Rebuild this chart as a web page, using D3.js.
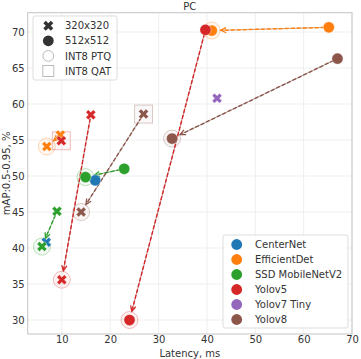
<!DOCTYPE html>
<html><head><meta charset="utf-8">
<script src="https://cdn.jsdelivr.net/npm/d3@7"></script>
<style>body{margin:0;background:#fff}svg{display:block;font-family:"DejaVu Sans",sans-serif}</style>
</head><body><svg id="c" width="361" height="359"></svg>
<script>
const models = ["CenterNet","EfficientDet","SSD MobileNetV2","Yolov5","Yolov7 Tiny","Yolov8"];
const modelColors = ["#1f77b4","#ff7f0e","#2ca02c","#d62728","#9467bd","#8c564b"];
const xTicks = [10,20,30,40,50,60,70];
const yTicks = [30,35,40,45,50,55,60,65,70];
// points: model index, resolution, quantization, latency (ms), mAP
const ptModel = [0,0,1,1,1,1,2,2,2,2,3,3,3,3,3,4,5,5,5,5];
const ptRes   = [320,512,320,320,512,512,320,320,512,512,320,320,320,512,512,320,320,320,512,512];
const ptQuant = ["","","","PTQ","","PTQ","","PTQ","","PTQ","","PTQ","QAT","","PTQ","","QAT","PTQ","","PTQ"];
const ptLat   = [6.8,16.9,9.7,6.9,65.2,41.0,9.0,5.9,22.9,14.9,16.0,10.0,9.9,39.7,24.0,42.1,26.9,14.0,67.0,32.8];
const ptMap   = [40.8,49.4,55.7,54.1,70.65,70.2,45.1,40.2,51.0,49.85,58.5,35.6,54.9,70.3,30.0,60.8,58.6,45.0,66.3,55.2];
// arrows: from point index -> to point index
const arrFrom = [2,4,6,8,10,13,16,18];
const arrTo   = [3,5,7,9,11,14,17,19];

const svg = d3.select("#c");
const L=27.7,R=352,T=12.7,B=334;
const x = d3.scaleLinear().domain([2.95,70]).range([L,R]);
const y = d3.scaleLinear().domain([28.06,72.68]).range([B,T]);
const tc="#333";
// grid
svg.append("g").selectAll("line").data(xTicks).join("line")
  .attr("x1",d=>x(d)).attr("x2",d=>x(d)).attr("y1",T).attr("y2",B).attr("stroke","#ebebeb").attr("stroke-width",0.8);
svg.append("g").selectAll("line").data(yTicks).join("line")
  .attr("y1",d=>y(d)).attr("y2",d=>y(d)).attr("x1",L).attr("x2",R).attr("stroke","#ebebeb").attr("stroke-width",0.8);
svg.append("rect").attr("x",L).attr("y",T).attr("width",R-L).attr("height",B-T).attr("fill","none").attr("stroke","#c4c4c4").attr("stroke-width",1);
// axes labels via d3 axes
const xa = svg.append("g").attr("transform",`translate(0,${B})`).call(d3.axisBottom(x).tickValues(xTicks).tickSize(0).tickPadding(2));
const ya = svg.append("g").attr("transform",`translate(${L},0)`).call(d3.axisLeft(y).tickValues(yTicks).tickSize(0).tickPadding(3));
[xa,ya].forEach(a=>{a.select(".domain").remove();a.selectAll("text").attr("fill",tc).style("font-size","10px").style("font-family","DejaVu Sans");});
svg.append("text").attr("x",(L+R)/2).attr("y",10).attr("text-anchor","middle").attr("fill",tc).style("font-size","10px").text("PC");
svg.append("text").attr("x",(L+R)/2).attr("y",357).attr("text-anchor","middle").attr("fill",tc).style("font-size","10px").text("Latency, ms");
svg.append("text").attr("transform",`translate(10,${(T+B)/2}) rotate(-90)`).attr("text-anchor","middle").attr("fill",tc).style("font-size","10px").text("mAP:0.5-0.95, %");

const idx = d3.range(ptLat.length);
const col = i=>modelColors[ptModel[i]];
// arrows lines
const gA = svg.append("g");
arrFrom.forEach((f,k)=>{
  const t=arrTo[k];
  const x1=x(ptLat[f]),y1=y(ptMap[f]),x2=x(ptLat[t]),y2=y(ptMap[t]);
  const dx=x2-x1,dy=y2-y1,len=Math.hypot(dx,dy),ux=dx/len,uy=dy/len;
  const sx=x1+ux*4,sy=y1+uy*4,ex=x2-ux*9,ey=y2-uy*9;
  const c=modelColors[ptModel[f]];
  gA.append("line").attr("x1",sx).attr("y1",sy).attr("x2",ex).attr("y2",ey).attr("stroke",d3.color(c).darker(1)).attr("stroke-opacity",0.55).attr("stroke-width",1);
  gA.append("line").attr("x1",sx).attr("y1",sy).attr("x2",ex).attr("y2",ey).attr("stroke",c).attr("stroke-width",1.4).attr("stroke-dasharray","4,2");
  const a=Math.atan2(uy,ux),hl=6,ha=0.45;
  const p=`M${ex-hl*Math.cos(a-ha)},${ey-hl*Math.sin(a-ha)}L${ex},${ey}L${ex-hl*Math.cos(a+ha)},${ey-hl*Math.sin(a+ha)}`;
  gA.append("path").attr("d",p).attr("fill","none").attr("stroke",c).attr("stroke-width",1.3);
});
// rings and squares
svg.append("g").selectAll("circle").data(idx.filter(i=>ptQuant[i]==="PTQ")).join("circle")
  .attr("cx",i=>x(ptLat[i])).attr("cy",i=>y(ptMap[i])).attr("r",8.5)
  .attr("fill",i=>col(i)).attr("fill-opacity",0.06).attr("stroke",i=>col(i)).attr("stroke-opacity",0.3).attr("stroke-width",1);
svg.append("g").selectAll("rect").data(idx.filter(i=>ptQuant[i]==="QAT")).join("rect")
  .attr("x",i=>x(ptLat[i])-9).attr("y",i=>y(ptMap[i])-9).attr("width",18).attr("height",18)
  .attr("fill",i=>col(i)).attr("fill-opacity",0.04).attr("stroke",i=>col(i)).attr("stroke-opacity",0.3).attr("stroke-width",1);
// markers
const xSym = d3.symbol(d3.symbolCross).size(62);
const gm = svg.append("g");
idx.forEach(i=>{
  const px=x(ptLat[i]),py=y(ptMap[i]);
  if(ptRes[i]===320) gm.append("path").attr("d",xSym()).attr("transform",`translate(${px},${py}) rotate(45)`).attr("fill",col(i)).attr("stroke","#fff").attr("stroke-width",0.4);
  else gm.append("circle").attr("cx",px).attr("cy",py).attr("r",5.6).attr("fill",col(i)).attr("stroke","#fff").attr("stroke-width",0.4);
});
// legend 1
const lg1 = svg.append("g");
lg1.append("rect").attr("x",33).attr("y",16).attr("width",84).attr("height",64).attr("rx",2).attr("fill","#fff").attr("fill-opacity",0.85).attr("stroke","#ddd");
const l1Labels=["320x320","512x512","INT8 PTQ","INT8 QAT"];
l1Labels.forEach((t,k)=>{
  const yy=25.7+k*15.1,mx=48.3;
  if(k===0) lg1.append("path").attr("d",xSym()).attr("transform",`translate(${mx},${yy}) rotate(45)`).attr("fill","#333");
  if(k===1) lg1.append("circle").attr("cx",mx).attr("cy",yy).attr("r",5.4).attr("fill","#333");
  if(k===2) lg1.append("circle").attr("cx",mx).attr("cy",yy).attr("r",5.4).attr("fill","none").attr("stroke","#bbb");
  if(k===3) lg1.append("rect").attr("x",mx-5.5).attr("y",yy-5.5).attr("width",11).attr("height",11).attr("fill","none").attr("stroke","#bbb");
  lg1.append("text").attr("x",65).attr("y",yy+3.6).attr("fill",tc).style("font-size","10px").text(t);
});
// legend 2
const lg2 = svg.append("g");
lg2.append("rect").attr("x",223).attr("y",235).attr("width",125).attr("height",93).attr("rx",2).attr("fill","#fff").attr("fill-opacity",0.85).attr("stroke","#ddd");
models.forEach((m,k)=>{
  const yy=244.5+k*15;
  lg2.append("circle").attr("cx",236.7).attr("cy",yy).attr("r",5.4).attr("fill",modelColors[k]);
  lg2.append("text").attr("x",255).attr("y",yy+3.6).attr("fill",tc).style("font-size","10px").text(m);
});
</script></body></html>
